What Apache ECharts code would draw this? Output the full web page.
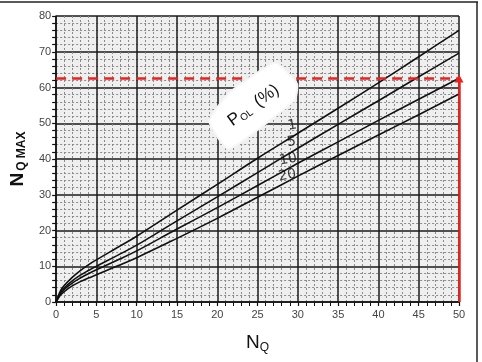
<!DOCTYPE html>
<html><head><meta charset="utf-8">
<script src="https://cdn.jsdelivr.net/npm/echarts@6/dist/echarts.min.js"></script>
<style>html,body{margin:0;padding:0;background:#fff}#c{width:482px;height:362px}</style>
</head><body><div id="c"></div>
<script>
// N_Q values (x) and N_Q MAX curves for P_OL (%) = 1, 5, 10, 20
const nq = [0, 0.5, 1, 2, 3, 4, 5, 7.5, 10, 15, 20, 25, 30, 35, 40, 45, 50];
const p1  = [0, 3.0, 4.6, 6.9, 8.8, 10.4, 11.8, 15.1, 18.4, 25.7, 32.9, 40.2, 47.2, 54.2, 61.3, 68.6, 76.0];
const p5  = [0, 2.5, 3.9, 5.9, 7.5, 8.8, 10.0, 12.9, 15.9, 22.7, 29.4, 36.2, 43.0, 49.7, 56.3, 63.0, 69.6];
const p10 = [0, 2.2, 3.5, 5.3, 6.7, 7.9, 9.0, 11.6, 14.3, 20.4, 26.4, 32.6, 38.8, 44.8, 50.8, 56.7, 62.6];
const p20 = [0, 1.8, 2.9, 4.5, 5.7, 6.7, 7.6, 10.0, 12.4, 17.8, 23.4, 29.3, 35.2, 41.0, 46.7, 52.4, 58.2];
const curveNames = ['1', '5', '10', '20'];
// curve label anchor points (x, y) in data units
const labelPts = [[29.3, 49.4], [29.2, 44.8], [28.8, 39.9], [28.7, 35.4]];
// reading line
const readY = 62.5, readX = 50;
const xTicks = [0, 5, 10, 15, 20, 25, 30, 35, 40, 45, 50];
const yTicks = [0, 10, 20, 30, 40, 50, 60, 70, 80];
// annotation blob (data units) and its text centre
const blob = [[19.0, 50.6], [21.5, 58.5], [27.2, 66.9], [29.9, 61.0], [29.6, 56.5], [21.4, 42.8]];
const blobText = [24.5, 55.0];

const toPairs = ys => nq.map((x, i) => [x, ys[i]]);
const chart = echarts.init(document.getElementById('c'));
const lineSeries = [p1, p5, p10, p20].map((ys, i) => ({
  type: 'line', name: curveNames[i], data: toPairs(ys), smooth: 0.4, symbol: 'none',
  lineStyle: { color: '#111', width: 1.6 }, z: 4
}));
chart.setOption({
  animation: false,
  grid: { left: 53, right: 23, top: 16, bottom: 60, show: true, backgroundColor: '#efefef', borderWidth: 0 },
  xAxis: {
    type: 'value', min: xTicks[0], max: xTicks[xTicks.length - 1], interval: 5,
    name: '{n|N}{s|Q}', nameLocation: 'middle', nameGap: 30,
    nameTextStyle: { rich: {
      n: { fontFamily: 'Liberation Sans', fontSize: 19, color: '#111' },
      s: { fontFamily: 'Liberation Sans', fontSize: 12, color: '#111', padding: [10, 0, 0, 0] } } },
    axisLine: { onZero: false, lineStyle: { color: '#111', width: 1.5 } },
    axisTick: { length: 4, lineStyle: { color: '#111', width: 1.2 } },
    minorTick: { show: true, splitNumber: 5, length: 4, lineStyle: { color: '#111', width: 1 } },
    axisLabel: { color: '#444', fontFamily: 'Liberation Sans', fontSize: 11, margin: 7 },
    splitLine: { lineStyle: { color: '#1a1a1a', width: 1.5 } },
    minorSplitLine: { show: true, lineStyle: { color: '#8a8a8a', width: 1, type: [2, 2] } }
  },
  yAxis: {
    type: 'value', min: yTicks[0], max: yTicks[yTicks.length - 1], interval: 10,
    name: '{n|N}{s|Q MAX}', nameLocation: 'middle', nameGap: 20, nameRotate: 90,
    nameTextStyle: { rich: {
      n: { fontFamily: 'Liberation Sans', fontSize: 19, fontWeight: 'bold', color: '#111' },
      s: { fontFamily: 'Liberation Sans', fontSize: 12, fontWeight: 'bold', color: '#111', padding: [9, 0, 0, 2] } } },
    axisLine: { show: true, lineStyle: { color: '#111', width: 1.5 } },
    axisTick: { length: 4, lineStyle: { color: '#111', width: 1.2 } },
    minorTick: { show: true, splitNumber: 5, length: 4, lineStyle: { color: '#111', width: 1.2 } },
    axisLabel: { color: '#444', fontFamily: 'Liberation Sans', fontSize: 11, margin: 5 },
    splitLine: { lineStyle: { color: '#1a1a1a', width: 1.5 } },
    minorSplitLine: { show: true, lineStyle: { color: '#8a8a8a', width: 1, type: [2, 2] } }
  },
  series: lineSeries.concat([
    {
      type: 'scatter', symbolSize: 0, z: 6, silent: true,
      data: labelPts.map((p, i) => ({ value: p, name: curveNames[i] })),
      label: { show: true, position: 'inside', formatter: '{b}', color: '#111',
        fontFamily: 'DejaVu Sans', fontSize: 14, rotate: 10 }
    },
    {
      type: 'line', data: [], silent: true, z: 7,
      markLine: {
        silent: true, symbol: ['none', 'none'], animation: false,
        label: { show: false },
        data: [
          [{ coord: [0, readY], lineStyle: { color: '#e8231d', width: 2.5, type: [10, 6] } },
           { coord: [readX, readY] }],
          [{ coord: [readX, 0], symbol: 'none', lineStyle: { color: '#e8231d', width: 2.5, type: 'solid' } },
           { coord: [readX, readY], symbol: 'triangle', symbolSize: [9, 8] }]
        ]
      }
    }
  ])
});

const px = p => chart.convertToPixel({ gridIndex: 0 }, p);
const bp = blob.map(px);
const tc = px(blobText);
chart.setOption({
  graphic: [
    { type: 'polygon', shape: { points: bp, smooth: 0.15 }, style: { fill: '#fff', stroke: '#f6f6f6', lineWidth: 2 }, z: 5 },
    { type: 'text', x: tc[0], y: tc[1], rotation: 36 * Math.PI / 180, z: 6,
      style: { text: '{p|P}{s|OL}{p| (%)}', align: 'center', verticalAlign: 'middle',
        rich: { p: { fontFamily: 'Liberation Sans', fontSize: 17, fill: '#111' },
                s: { fontFamily: 'Liberation Sans', fontSize: 10, fill: '#111', padding: [8, 3, 0, 0] } } } },
    { type: 'line', shape: { x1: 0, y1: 2, x2: 478, y2: 2 }, style: { stroke: '#222', lineWidth: 1.5 }, z: 10 },
    { type: 'line', shape: { x1: 477, y1: 2, x2: 477, y2: 362 }, style: { stroke: '#222', lineWidth: 1.5 }, z: 10 }
  ]
});
</script></body></html>
